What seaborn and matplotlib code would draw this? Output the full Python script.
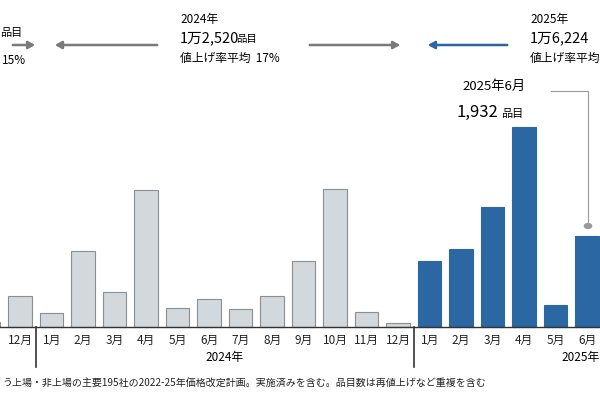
import matplotlib
matplotlib.use("Agg")
import matplotlib.pyplot as plt
import seaborn as sns
import pandas as pd

plt.rcParams["font.family"] = "Noto Sans CJK JP"

# monthly price-hike item counts (Nov 2023 .. Jun 2025)
months = ["11月", "12月", "1月", "2月", "3月", "4月", "5月", "6月", "7月", "8月", "9月",
          "10月", "11月", "12月", "1月", "2月", "3月", "4月", "5月", "6月"]
years = ["2023"] * 2 + ["2024"] * 12 + ["2025"] * 6
counts = [100, 660, 300, 1610, 740, 2900, 400, 590, 380, 660, 1400,
          2920, 320, 85, 1400, 1650, 2540, 4240, 470, 1932]

df = pd.DataFrame({"idx": range(len(counts)), "month": months, "year": years, "count": counts})

grey = "#d3d8dc"
blue = "#2a67a3"
colors = [blue if y == "2025" else grey for y in years]

fig = plt.figure(figsize=(6, 4), dpi=100)
ax = fig.add_axes([0, 0, 1, 1])
sns.barplot(data=df, x="idx", y="count", hue="idx", palette=colors, legend=False,
            width=0.75, ax=ax, edgecolor="#8a8f94", linewidth=0.8, saturation=1)
for p, y in zip(ax.patches, years):
    if y == "2025":
        p.set_edgecolor(blue)

px = 21.2  # items per pixel
ax.set_ylim(-73 * px, 327 * px)
# pixel 0 -> index 0.36, spacing 31.5 px
ax.set_xlim(0.36, 0.36 + 600 / 31.5)
ax.axis("off")
ax.axhline(0, color="#333333", lw=1)

ft = fig.transFigure
def T(x, y, s, **kw):
    fig.text(x / 600, 1 - y / 400, s, transform=ft, va="center", **kw)

for i, m in enumerate(months):
    if i == 0:
        continue
    ax.text(i, -13 * px, m, ha="center", va="center", fontsize=8.5, color="#222222")
for xb in [1.5, 13.5]:
    ax.plot([xb, xb], [0, -40 * px], color="#333333", lw=1.2)
ax.text(7.5, -31 * px, "2024年", ha="center", va="center", fontsize=8.5)
ax.text(18.8, -31 * px, "2025年", ha="center", va="center", fontsize=8.5)

T(2, 383, "う上場・非上場の主要195社の2022-25年価格改定計画。実施済みを含む。品目数は再値上げなど重複を含む",
  fontsize=7.2, color="#222222")

# header annotations
T(0, 33, "品目", fontsize=8)
T(2, 61, "15%", fontsize=8.5)
T(180, 20, "2024年", fontsize=8.5)
T(180, 38, "1万2,520", fontsize=10.5)
T(236, 39, "品目", fontsize=7.5)
T(180, 58, "値上げ率平均  17%", fontsize=8.5)
T(530, 20, "2025年", fontsize=8.5)
T(530, 38, "1万6,224", fontsize=10.5)
T(530, 58, "値上げ率平均", fontsize=8.5)
T(462, 86, "2025年6月", fontsize=9.5)
T(457, 112, "1,932", fontsize=12)
T(501, 114, "品目", fontsize=8)

def arrow(x0, x1, y, c):
    fig.add_artist(matplotlib.patches.FancyArrowPatch(
        (x0 / 600, 1 - y / 400), (x1 / 600, 1 - y / 400), transform=ft,
        arrowstyle="-|>,head_length=4,head_width=2.2", color=c, lw=1.8))

arrow(10, 38, 45, "#7a7a7a")
arrow(160, 52, 45, "#7a7a7a")
arrow(307, 403, 45, "#7a7a7a")
arrow(510, 425, 45, blue)

fig.add_artist(matplotlib.lines.Line2D([551 / 600, 588 / 600, 588 / 600],
                                       [1 - 91 / 400, 1 - 91 / 400, 1 - 226 / 400],
                                       transform=ft, color="#9a9a9a", lw=0.8))
fig.add_artist(matplotlib.patches.Circle((588 / 600, 1 - 226 / 400), 0.006, transform=ft,
                                         color="#9a9a9a"))

fig.savefig("out.png", dpi=100)
